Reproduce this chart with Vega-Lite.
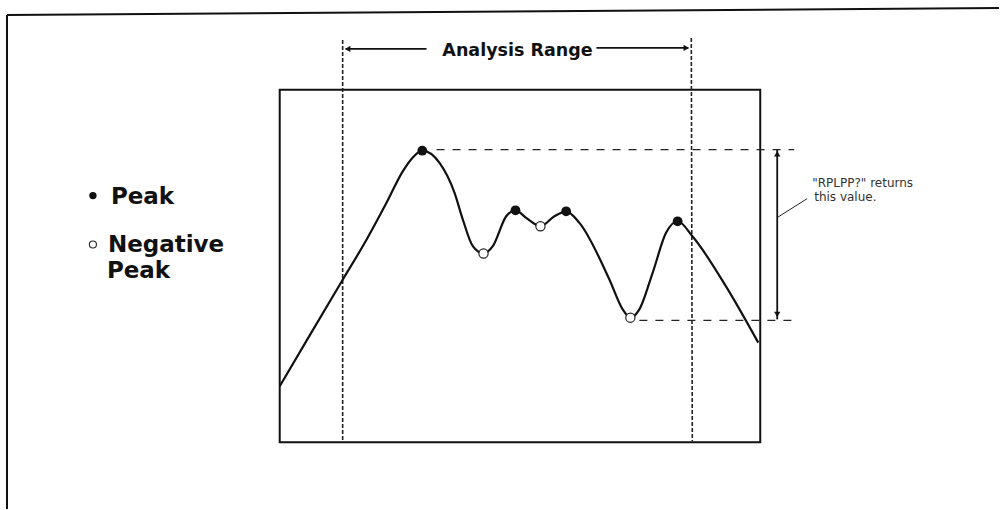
{
  "$schema": "https://vega.github.io/schema/vega-lite/v6.json",
  "width": 1000,
  "height": 510,
  "padding": 0,
  "autosize": {"type": "fit", "contains": "padding"},
  "background": "white",
  "config": {"view": {"stroke": null}},
  "datasets": {
    "frame": [
      {"x": 7, "y": 15, "x2": 1000, "y2": 8},
      {"x": 7, "y": 15, "x2": 7, "y2": 510}
    ],
    "box": [{"x": 280, "y": 90, "x2": 761, "y2": 443}],
    "rangeLines": [
      {"x": 343, "y": 40, "x2": 343, "y2": 442},
      {"x": 692, "y": 38, "x2": 693, "y2": 442}
    ],
    "rangeArrows": [
      {"x": 346, "y": 49, "x2": 427, "y2": 49},
      {"x": 597, "y": 48, "x2": 689, "y2": 48}
    ],
    "arrowHeads": [
      {"x": 348, "y": 49, "dir": "left"},
      {"x": 687, "y": 48, "dir": "right"},
      {"x": 778, "y": 154, "dir": "up"},
      {"x": 778, "y": 315, "dir": "down"}
    ],
    "signal": [
      {"x": 280, "y": 387},
      {"x": 310, "y": 336},
      {"x": 342, "y": 282},
      {"x": 367, "y": 240},
      {"x": 387, "y": 203},
      {"x": 403, "y": 172},
      {"x": 413, "y": 158},
      {"x": 422.7, "y": 151},
      {"x": 440, "y": 163.3},
      {"x": 455, "y": 193.3},
      {"x": 463.3, "y": 220},
      {"x": 473.3, "y": 246.7},
      {"x": 484, "y": 254},
      {"x": 493.3, "y": 246.7},
      {"x": 506.7, "y": 216.7},
      {"x": 516, "y": 210.7},
      {"x": 526.7, "y": 218.3},
      {"x": 541, "y": 226.7},
      {"x": 555, "y": 216.7},
      {"x": 566.7, "y": 211.7},
      {"x": 580, "y": 223.3},
      {"x": 610, "y": 280},
      {"x": 623.3, "y": 310},
      {"x": 631, "y": 318.3},
      {"x": 640, "y": 310},
      {"x": 653.3, "y": 273.3},
      {"x": 666.7, "y": 233.3},
      {"x": 678.3, "y": 221.7},
      {"x": 693.3, "y": 237},
      {"x": 726.7, "y": 287},
      {"x": 759, "y": 343.3}
    ],
    "peaks": [
      {"x": 422.7, "y": 151},
      {"x": 516, "y": 210.7},
      {"x": 566.7, "y": 211.7},
      {"x": 678.3, "y": 221.7}
    ],
    "valleys": [
      {"x": 484, "y": 254},
      {"x": 541, "y": 226.7},
      {"x": 631, "y": 318.3}
    ],
    "levels": [
      {"x": 437, "y": 150, "x2": 795, "y2": 150},
      {"x": 640, "y": 321, "x2": 795, "y2": 321}
    ],
    "span": [{"x": 778, "y": 150, "x2": 778, "y2": 320}],
    "leader": [{"x": 778, "y": 218, "x2": 808, "y2": 199}],
    "legendPeak": [{"x": 93, "y": 196}],
    "legendValley": [{"x": 93, "y": 245}],
    "legendText": [
      {"x": 111, "y": 204, "text": "Peak"},
      {"x": 108, "y": 252, "text": "Negative"},
      {"x": 107, "y": 279, "text": "Peak"}
    ],
    "titleText": [{"x": 518, "y": 56, "text": "Analysis Range"}],
    "noteText": [
      {"x": 813, "y": 187, "text": "\"RPLPP?\" returns"},
      {"x": 815, "y": 201, "text": "this value."}
    ]
  },
  "encoding": {
    "x": {"field": "x", "type": "quantitative", "scale": {"domain": [0, 1000], "nice": false, "zero": false}, "axis": null},
    "y": {"field": "y", "type": "quantitative", "scale": {"domain": [0, 510], "nice": false, "zero": false, "reverse": true}, "axis": null}
  },
  "layer": [
    {
      "data": {"name": "frame"},
      "mark": {"type": "rule", "color": "#111", "strokeWidth": 2},
      "encoding": {"x2": {"field": "x2"}, "y2": {"field": "y2"}}
    },
    {
      "data": {"name": "box"},
      "mark": {"type": "rect", "fill": "transparent", "stroke": "#111", "strokeWidth": 2},
      "encoding": {"x2": {"field": "x2"}, "y2": {"field": "y2"}}
    },
    {
      "data": {"name": "rangeLines"},
      "mark": {"type": "rule", "color": "#222", "strokeWidth": 1.6, "strokeDash": [4, 2]},
      "encoding": {"x2": {"field": "x2"}, "y2": {"field": "y2"}}
    },
    {
      "data": {"name": "rangeArrows"},
      "mark": {"type": "rule", "color": "#111", "strokeWidth": 1.6},
      "encoding": {"x2": {"field": "x2"}, "y2": {"field": "y2"}}
    },
    {
      "data": {"name": "levels"},
      "mark": {"type": "rule", "color": "#222", "strokeWidth": 1.2, "strokeDash": [8, 8]},
      "encoding": {"x2": {"field": "x2"}, "y2": {"field": "y2"}}
    },
    {
      "data": {"name": "span"},
      "mark": {"type": "rule", "color": "#111", "strokeWidth": 1.8},
      "encoding": {"x2": {"field": "x2"}, "y2": {"field": "y2"}}
    },
    {
      "data": {"name": "leader"},
      "mark": {"type": "rule", "color": "#222", "strokeWidth": 1},
      "encoding": {"x2": {"field": "x2"}, "y2": {"field": "y2"}}
    },
    {
      "data": {"name": "arrowHeads"},
      "mark": {"type": "point", "filled": true, "color": "#111", "size": 40, "opacity": 1},
      "encoding": {
        "shape": {
          "field": "dir",
          "type": "nominal",
          "scale": {"domain": ["left", "right", "up", "down"], "range": ["triangle-left", "triangle-right", "triangle-up", "triangle-down"]},
          "legend": null
        }
      }
    },
    {
      "data": {"name": "signal"},
      "mark": {"type": "line", "color": "#111", "strokeWidth": 2.2, "interpolate": "monotone"},
      "encoding": {}
    },
    {
      "data": {"name": "peaks"},
      "mark": {"type": "point", "shape": "circle", "filled": true, "color": "#111", "size": 95, "opacity": 1}
    },
    {
      "data": {"name": "valleys"},
      "mark": {"type": "point", "shape": "circle", "fill": "white", "stroke": "#222", "strokeWidth": 1.2, "size": 85, "opacity": 1, "fillOpacity": 1}
    },
    {
      "data": {"name": "legendPeak"},
      "mark": {"type": "point", "shape": "circle", "filled": true, "color": "#111", "size": 55, "opacity": 1}
    },
    {
      "data": {"name": "legendValley"},
      "mark": {"type": "point", "shape": "circle", "fill": "white", "stroke": "#222", "strokeWidth": 1.1, "size": 50, "opacity": 1, "fillOpacity": 1}
    },
    {
      "data": {"name": "legendText"},
      "mark": {"type": "text", "align": "left", "baseline": "alphabetic", "font": "DejaVu Sans", "fontWeight": "bold", "fontSize": 23, "color": "#111"},
      "encoding": {"text": {"field": "text"}}
    },
    {
      "data": {"name": "titleText"},
      "mark": {"type": "text", "align": "center", "baseline": "alphabetic", "font": "DejaVu Sans", "fontWeight": "bold", "fontSize": 17.5, "color": "#111"},
      "encoding": {"text": {"field": "text"}}
    },
    {
      "data": {"name": "noteText"},
      "mark": {"type": "text", "align": "left", "baseline": "alphabetic", "font": "DejaVu Sans", "fontSize": 12, "color": "#333"},
      "encoding": {"text": {"field": "text"}}
    }
  ]
}
